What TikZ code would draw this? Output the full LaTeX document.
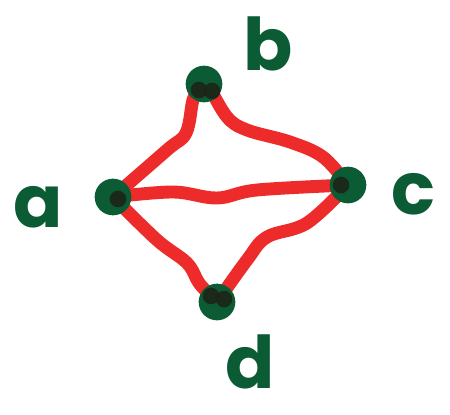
\documentclass[tikz,border=0pt]{standalone}
\usepackage{fontspec}
\setmainfont{Poppins}
\definecolor{mgreen}{HTML}{0B5C35}
\definecolor{mred}{HTML}{EE2B2B}
\definecolor{mdark}{HTML}{1C2418}
\begin{document}
\begin{tikzpicture}[x=0.03cm,y=-0.03cm,
  vert/.style={circle,fill=mgreen,minimum size=1.1cm,inner sep=0pt},
  edge/.style={draw=mred,line width=11pt,line cap=round,line join=round},
  lbl/.style={text=mgreen,font=\fontsize{62}{62}\selectfont\bfseries,inner sep=0pt},
  spot/.style={circle,fill=mdark,minimum size=0.5cm,inner sep=0pt,opacity=0.9}]
\useasboundingbox (0,0) rectangle (450,414);
\coordinate (a) at (113,197);
\coordinate (b) at (204,84);
\coordinate (c) at (348,185);
\coordinate (d) at (217,302);
\path[edge] plot[smooth,tension=0.6] coordinates {(a) (167,150) (186,133) (193,100) (200,88)};
\path[edge] plot[smooth,tension=0.6] coordinates {(210,88) (227,117) (247,130) (290,142) (323,157) (c)};
\path[edge] plot[smooth,tension=0.6] coordinates {(a) (173,192) (217,198) (257,190) (c)};
\path[edge] plot[smooth,tension=0.6] coordinates {(a) (157,240) (187,263) (199,283) (213,298)};
\path[edge] plot[smooth,tension=0.6] coordinates {(d) (247,260) (267,237) (307,223) (c)};
\node[vert] (na) at (a) {};
\node[vert] (nb) at (b) {};
\node[vert] (nc) at (c) {};
\node[vert] (nd) at (d) {};
\node[spot] (sa) at (118,199) {};
\node[spot] (sb1) at (199,90) {};
\node[spot] (sb2) at (212,91) {};
\node[spot] (sc) at (341,185) {};
\node[spot] (sd1) at (211,296) {};
\node[spot] (sd2) at (224,299) {};
\node[lbl] (la) at (38,207) {a};
\node[lbl] (lb) at (268,44) {b};
\node[lbl] (lc) at (413,194) {c};
\node[lbl] (ld) at (250,362) {d};
\end{tikzpicture}
\end{document}
